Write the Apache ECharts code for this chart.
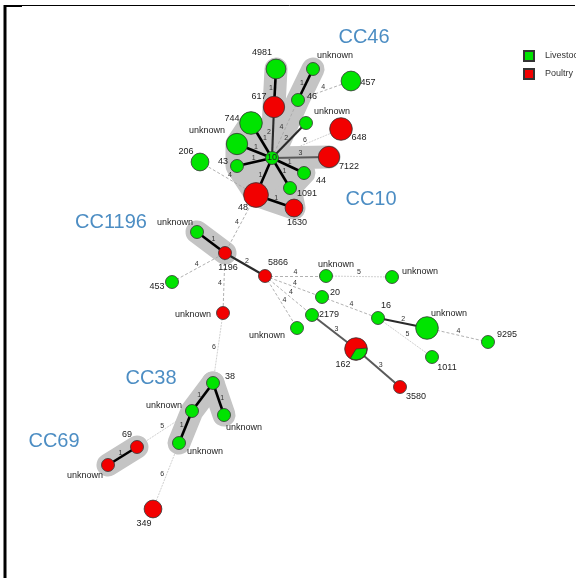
<!DOCTYPE html>
<html><head><meta charset="utf-8">
<script src="https://cdn.jsdelivr.net/npm/echarts@6/dist/echarts.min.js"></script>
<style>html,body{margin:0;padding:0;background:#fff}#c{width:576px;height:578px}</style>
</head><body><div id="c"></div>
<script>
// ---- data ----
var nodeNames = ['4981','unknown','617','46','457','unknown','648','744','unknown','10','206','43','7122','44','1091','48','1630',
  'unknown','1196','5866','453','unknown','unknown','unknown','20','2179','unknown','16','unknown','9295','1011','162','3580',
  '38','unknown','unknown','unknown','69','unknown','349'];
var nodeX = [276,313,274,298,351,306,341,251,237,272,200,237,329,304,290,256,294,
  197,225,265,172,223,326,392,322,312,297,378,427,488,432,356,400,
  213,192,224,179,137,108,153];
var nodeY = [69,69,107,100,81,123,129,123,144,158,162,166,157,173,188,195,208,
  232,253,276,282,313,276,277,297,315,328,318,328,342,357,349,387,
  383,411,415,443,447,465,509];
// 0 = Livestock, 1 = Poultry
var nodeHost = [0,0,1,0,0,0,1,0,0,0,0,0,1,0,0,1,1,
  0,1,1,0,1,0,0,0,0,0,0,0,0,0,1,1,
  0,0,0,0,1,1,1];
// relative isolate count (drives node size)
var nodeCount = [3,1,4,1,3,1,5,5,4,1,2,1,4,1,1,7,2,
  1,1,1,1,1,1,1,1,1,1,1,5,1,1,5,1,
  1,1,1,1,1,1,2];
// links: source, target, allelic distance
var linkSource = [0,1,2,3,4,5,6,7,8,11,12,13,14,15,15,10,15,17,18,20,18,21,33,33,34,37,36,37,19,19,19,19,22,24,27,27,28,25,31];
var linkTarget = [2,3,9,9,3,9,9,9,9,9,9,9,9,9,16,15,18,18,19,18,21,33,34,35,36,34,39,38,22,24,25,26,23,27,28,30,29,31,32];
var linkDist   = [1,1,2,4,4,2,6,1,1,1,3,1,1,1,1,4,4,1,2,4,4,6,1,1,1,5,6,1,4,4,4,4,5,4,2,5,4,3,3];
// node 31 (ST162) is mixed: share of Poultry / Livestock
var mixedNode = 31;
var mixedShare = [0.65, 0.35];
// clonal complexes
var ccNames = ['CC46','CC10','CC1196','CC38','CC69'];
var ccX = [364,371,111,151,54];
var ccY = [37,199,222,378,441];
var ccMembers = [[0,2,9],[1,3,9],[9,12],[8,7,9,13,14,16,15,11],[17,18],[33,34,36],[33,35],[37,38]];
var ccClosed = [false,false,false,true,false,false,false,false];
var hostNames = ['Livestock','Poultry'];

// ---- styles ----
var hostColors = ['#00e400','#f20000'];
var labelOffsets = [[-14,-16],[22,-13],[-15,-10],[14,-3],[17,2],[26,-11],[18,9],[-19,-4],[-30,-13],[0,0],[-14,-10],[-14,-4],[20,10],[17,8],[17,6],[-13,13],[3,15],
  [-22,-9],[3,15],[13,-13],[-15,5],[-30,2],[10,-11],[28,-5],[13,-4],[17,0],[-30,8],[8,-12],[22,-14],[19,-7],[15,11],[-13,16],[16,10],
  [17,-6],[-28,-5],[20,13],[26,9],[-10,-12],[-23,11],[-9,15]];
function sizeOf(c){ return 13 + Math.sqrt(c - 1) * 4.8; }
function linkStyle(d){
  if (d === 1) return {color:'#000', width:2.6, type:'solid'};
  if (d === 2) return {color:'#2a2a2a', width:2.1, type:'solid'};
  if (d === 3) return {color:'#5a5a5a', width:2, type:'solid'};
  if (d === 4) return {color:'#a8a8a8', width:0.9, type:[3,2]};
  return {color:'#c4c4c4', width:0.8, type:[2,1]};
}

var nodes = nodeNames.map(function(n,i){
  return {
    id: String(i), name: n, value: [nodeX[i], nodeY[i]],
    category: nodeHost[i],
    symbolSize: sizeOf(nodeCount[i]),
    label: {offset: labelOffsets[i]}
  };
});
var links = linkSource.map(function(s,i){
  var st = linkStyle(linkDist[i]);
  return {source:String(s), target:String(linkTarget[i]), value:linkDist[i],
    lineStyle:{color:st.color, width:st.width, type:st.type, opacity:1}};
});

var chart = echarts.init(document.getElementById('c'), null, {renderer:'canvas'});
chart.setOption({
  animation:false,
  backgroundColor:'#fff',
  grid:{left:0,right:0,top:0,bottom:0},
  xAxis:{type:'value',min:0,max:576,show:false},
  yAxis:{type:'value',min:0,max:578,inverse:true,show:false},
  legend:{
    orient:'vertical', left:518, top:45, itemWidth:10, itemHeight:10, itemGap:6,
    icon:'rect', data:hostNames,
    textStyle:{fontSize:9, color:'#333', fontFamily:'Liberation Sans, Arial', padding:[0,0,0,6]}
  },
  graphic:[
    {type:'line', shape:{x1:5,y1:5,x2:5,y2:578}, style:{stroke:'#000', lineWidth:3}},
    {type:'line', shape:{x1:4,y1:5.5,x2:575,y2:5.5}, style:{stroke:'#000', lineWidth:1}},
    {type:'line', shape:{x1:4,y1:6,x2:22,y2:6}, style:{stroke:'#000', lineWidth:2}}
  ],
  series:[
    {
      type:'custom', coordinateSystem:'cartesian2d', z:1, silent:true,
      data: ccMembers.map(function(m,i){ return [i]; }),
      encode:{x:0,y:0},
      renderItem:function(params, api){
        var k = api.value(0);
        var pts = ccMembers[k].map(function(j){ return api.coord([nodeX[j], nodeY[j]]); });
        return {
          type: ccClosed[k] ? 'polygon' : 'polyline',
          shape:{points:pts},
          style:{stroke:'#c4c4c4', fill: ccClosed[k] ? '#c4c4c4' : null, lineWidth:23, lineJoin:'round', lineCap:'round'}
        };
      }
    },
    {
      type:'graph', coordinateSystem:'cartesian2d', z:2,
      layout:'none', roam:false,
      categories: hostNames.map(function(h,i){ return {name:h, itemStyle:{color:hostColors[i], borderColor:'#333', borderWidth:0.8}}; }),
      data: nodes, links: links,
      itemStyle:{borderColor:'#333', borderWidth:0.8},
      label:{show:true, position:'inside', fontSize:9, color:'#222', fontFamily:'Liberation Sans, Arial'},
      edgeLabel:{show:false},
      emphasis:{disabled:true}
    },
    {
      // upright distance labels at link midpoints
      type:'custom', coordinateSystem:'cartesian2d', z:3, silent:true,
      data: linkSource.map(function(s,i){ return [i]; }),
      encode:{x:0,y:0},
      renderItem:function(params, api){
        var k = api.value(0);
        var a = api.coord([nodeX[linkSource[k]], nodeY[linkSource[k]]]);
        var b = api.coord([nodeX[linkTarget[k]], nodeY[linkTarget[k]]]);
        var dx = b[0]-a[0], dy = b[1]-a[1], L = Math.sqrt(dx*dx+dy*dy) || 1;
        var nx = -dy/L, ny = dx/L;
        if (ny > 0.05 || (Math.abs(ny) <= 0.05 && nx > 0)) { nx = -nx; ny = -ny; }
        return {type:'text', style:{text:String(linkDist[k]), x:(a[0]+b[0])/2 + nx*4, y:(a[1]+b[1])/2 + ny*4,
          align:'center', verticalAlign:'middle', fontSize:7, fill:'#333', fontFamily:'Liberation Sans, Arial'}};
      }
    },
    {
      type:'custom', coordinateSystem:'cartesian2d', z:3, silent:true,
      data:[[nodeX[mixedNode], nodeY[mixedNode]]],
      renderItem:function(params, api){
        var p = api.coord([api.value(0), api.value(1)]);
        var r = sizeOf(nodeCount[mixedNode]) / 2;
        var start = -5 * Math.PI / 180;
        var end = start + mixedShare[1] * Math.PI * 2;
        return {type:'sector', shape:{cx:p[0], cy:p[1], r:r-0.4, r0:0, startAngle:start, endAngle:end, clockwise:true},
          style:{fill:hostColors[0], stroke:'#333', lineWidth:0.8}};
      }
    },
    {
      type:'scatter', z:4, symbolSize:0, silent:true,
      data: ccNames.map(function(n,i){ return {name:n, value:[ccX[i], ccY[i]]}; }),
      label:{show:true, position:'inside', formatter:'{b}', fontSize:20, color:'#1f70b4', fontFamily:'Liberation Sans, Arial'}
    }
  ]
});
</script></body></html>
